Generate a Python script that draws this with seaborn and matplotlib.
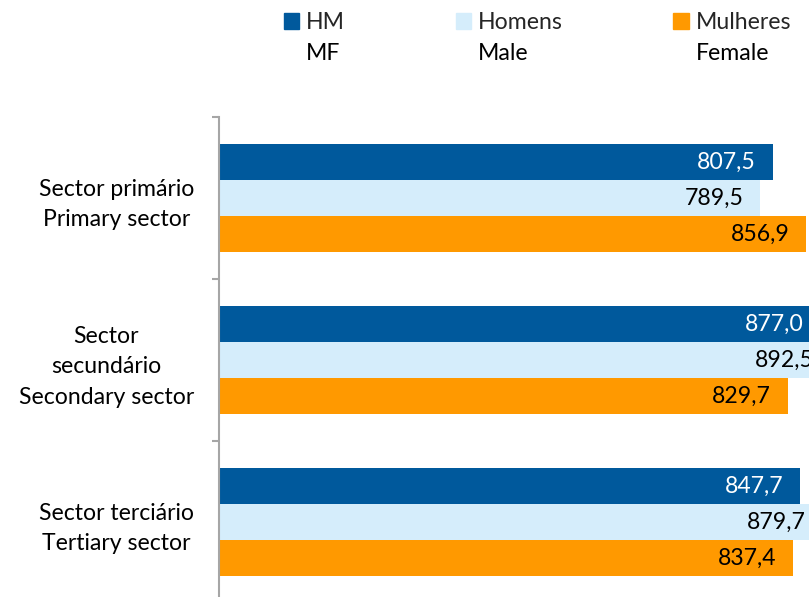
import seaborn as sns
import pandas as pd
import matplotlib.pyplot as plt
from matplotlib.patches import Patch

# Dados (ganho médio por sector e sexo)
sectores = ["Sector primário\nPrimary sector",
            "Sector\nsecundário\nSecondary sector",
            "Sector terciário\nTertiary sector"]
sexos = ["HM", "Homens", "Mulheres"]
sexos_en = ["MF", "Male", "Female"]
hm = [807.5, 877.0, 847.7]
homens = [789.5, 892.5, 879.7]
mulheres = [856.9, 829.7, 837.4]

cores = {"HM": "#00599C", "Homens": "#D5EDFB", "Mulheres": "#FF9900"}
cor_texto = {"HM": "white", "Homens": "black", "Mulheres": "black"}

df = pd.DataFrame({
    "sector": sectores * 3,
    "sexo": ["HM"] * 3 + ["Homens"] * 3 + ["Mulheres"] * 3,
    "valor": hm + homens + mulheres,
})

sns.set_theme(style="white")
plt.rcParams["font.family"] = ["Lato", "DejaVu Sans"]
fs = 16.6

fig = plt.figure(figsize=(8.09, 5.97), dpi=100)
ax = fig.add_axes([219 / 809, 1 - 603 / 597, 617 / 809, 486 / 597])

sns.barplot(data=df, x="valor", y="sector", hue="sexo", order=sectores,
            hue_order=sexos, palette=cores, orient="h", width=0.667,
            saturation=1, linewidth=0, legend=False, ax=ax)

ax.set_xlim(0, 900)
ax.set_xlabel("")
ax.set_ylabel("")
ax.set_xticks([])
for s in ["top", "right", "bottom"]:
    ax.spines[s].set_visible(False)
ax.spines["left"].set_color("#A6A6A6")
ax.spines["left"].set_linewidth(1.5)

ax.set_yticks(range(len(sectores)))
ax.set_yticklabels(sectores, fontsize=fs, color="black",
                   multialignment="center", linespacing=1.55)
ax.set_yticks([-0.5, 0.5, 1.5, 2.5], minor=True)
ax.tick_params(axis="y", which="major", length=0, pad=18)
ax.tick_params(axis="y", which="minor", length=5, width=1.5,
               color="#A6A6A6", left=True)

# Rótulos de dados dentro do fim da barra
for sexo, cont in zip(sexos, ax.containers):
    for bar in cont:
        w = bar.get_width()
        yc = bar.get_y() + bar.get_height() / 2
        ax.annotate(f"{w:.1f}".replace(".", ","), (w, yc),
                    xytext=(-12, 0), textcoords="offset points",
                    ha="right", va="center", fontsize=fs,
                    color=cor_texto[sexo], annotation_clip=False)

# Legenda
handles = [Patch(color=cores[s]) for s in sexos]
leg = fig.legend(handles, sexos, ncol=3, loc="upper left",
                 bbox_to_anchor=(284 / 809, 1 - 12 / 597), frameon=False,
                 fontsize=fs, handlelength=0.66, handleheight=0.66,
                 handletextpad=0.3, columnspacing=4.8, borderpad=0,
                 borderaxespad=0)
fig.canvas.draw()
for t, lab in zip(leg.get_texts(), sexos_en):
    bb = t.get_window_extent()
    fig.text(bb.x0 / 809, 1 - 54 / 597, lab, ha="left", va="center",
             fontsize=fs, color="black")

plt.savefig("out.png", dpi=100)
